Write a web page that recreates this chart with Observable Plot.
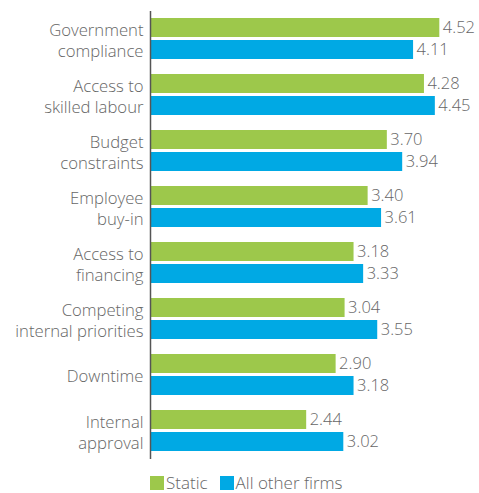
<!DOCTYPE html>
<html>
<head>
<meta charset="utf-8">
<script src="https://cdn.jsdelivr.net/npm/d3@7"></script>
<script src="https://cdn.jsdelivr.net/npm/@observablehq/plot@0.6"></script>
<style>
  body { margin: 0; background: #fff; font-family: "Open Sans", sans-serif; }
  #chart svg { display: block; }
  .legend { display: flex; align-items: center; padding-left: 150px; margin-top: 9px; font-size: 17px; line-height: 16px; height: 16px; color: #666; font-family: "Open Sans", sans-serif; font-weight: 300; }
  .legend .sw { width: 14px; height: 14px; display: inline-block; margin-right: 2px; }
  .legend .item { display: flex; align-items: center; margin-right: 12px; }
</style>
</head>
<body>
<div id="chart"></div>
<script>
const categories = ["Government compliance","Access to skilled labour","Budget constraints","Employee buy-in","Access to financing","Competing internal priorities","Downtime","Internal approval"];
const categoryLabels = ["Government\ncompliance","Access to\nskilled labour","Budget\nconstraints","Employee\nbuy-in","Access to\nfinancing","Competing\ninternal priorities","Downtime","Internal\napproval"];
const series = ["Static","All other firms"];
const staticValues = [4.52,4.28,3.70,3.40,3.18,3.04,2.90,2.44];
const otherValues = [4.11,4.45,3.94,3.61,3.33,3.55,3.18,3.02];
const colors = ["#9dc84b","#00a9e4"];

const data = [];
categories.forEach((c, i) => {
  data.push({category: c, series: series[0], value: staticValues[i]});
  data.push({category: c, series: series[1], value: otherValues[i]});
});
const labelOf = new Map(categories.map((c, i) => [c, categoryLabels[i]]));

const chart = Plot.plot({
  width: 479,
  height: 466,
  marginLeft: 150,
  marginRight: 0,
  marginTop: 9,
  marginBottom: 6,
  style: {fontFamily: "'Open Sans', sans-serif", color: "#666", fontWeight: 300},
  x: {domain: [0, 5.14], axis: null},
  y: {domain: series, axis: null, paddingInner: 0.13, paddingOuter: 0.29},
  fy: {domain: categories, axis: null, padding: 0},
  color: {domain: series, range: colors},
  marks: [
    Plot.barX(data, {x: "value", y: "series", fy: "category", fill: "series"}),
    Plot.ruleX([0], {stroke: "#555", strokeWidth: 1.5}),
    Plot.text(data, {x: "value", y: "series", fy: "category", text: d => d.value.toFixed(2), textAnchor: "start", dx: 3, fontSize: 16.5, fill: "#666"}),
    Plot.text(categories, {fy: d => d, frameAnchor: "left", text: d => labelOf.get(d), textAnchor: "end", dx: -7, fontSize: 16.7, lineHeight: 1.27, fill: "#666"})
  ]
});
document.getElementById("chart").appendChild(chart);

const legend = document.createElement("div");
legend.className = "legend";
series.forEach((s, i) => {
  const item = document.createElement("span");
  item.className = "item";
  const sw = document.createElement("span");
  sw.className = "sw";
  sw.style.background = colors[i];
  item.appendChild(sw);
  item.appendChild(document.createTextNode(s));
  legend.appendChild(item);
});
document.body.appendChild(legend);
</script>
</body>
</html>
